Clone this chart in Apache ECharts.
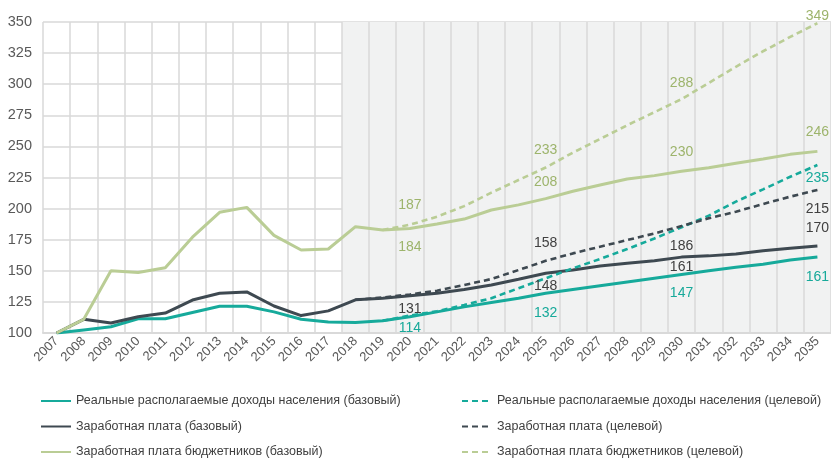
<!DOCTYPE html>
<html><head><meta charset="utf-8">
<script src="https://cdn.jsdelivr.net/npm/echarts@6/dist/echarts.min.js"></script>
<style>html,body{margin:0;padding:0;background:#fff}#c{width:831px;height:461px}</style>
</head><body><div id="c"></div>
<script>
var years = ['2007','2008','2009','2010','2011','2012','2013','2014','2015','2016','2017','2018','2019','2020','2021','2022','2023','2024','2025','2026','2027','2028','2029','2030','2031','2032','2033','2034','2035'];
var yTicks = {min: 100, max: 350, step: 25};
var forecastStart = '2018';

var incomeBase = [100,102.5,105,111.5,111.5,116.5,121.5,121.5,117,111,108.8,108.5,109.8,113,117,121,124.5,128,132,135,138,141,144,147,150,152.8,155.2,158.7,161];
var incomeTarget = [null,null,null,null,null,null,null,null,null,null,null,null,109.8,114,117.5,122.5,128,136,144,152,159.5,167.5,176,185,194.3,205.6,215.5,225.6,235];
var wageBase = [100,111,108,113,116,126.5,132,133,121.7,114,117.8,126.7,128,130,132,135,138.6,143.2,148,150.6,153.9,156,158,161,162,163.5,166.2,168.1,170];
var wageTarget = [null,null,null,null,null,null,null,null,null,null,null,126.7,128.5,131,134,138.6,143.4,150.6,158,164,169.4,174.7,180,186,192.2,197.5,203.7,209.6,215];
var publicBase = [100,111,150,148.6,152.5,177,197,201,178.5,166.7,167.5,185.5,182.8,184,187.6,191.6,198.9,203,208,214,219,223.8,226.5,230,232.9,236.4,239.9,243.6,246];
var publicTarget = [null,null,null,null,null,null,null,null,null,null,null,null,182.8,187,193.5,202,212.8,223,233,245,256,267,277.5,288,301,314,326.5,338,349];

var names = [
  'Реальные располагаемые доходы населения (базовый)',
  'Реальные располагаемые доходы населения (целевой)',
  'Заработная плата (базовый)',
  'Заработная плата (целевой)',
  'Заработная плата бюджетников (базовый)',
  'Заработная плата бюджетников (целевой)'
];
// labelled years and label offsets (px, + = down)
var labelYears = {
  0: [['2025',20],['2030',19],['2035',20]],
  1: [['2020',13],['2035',13]],
  2: [['2025',13],['2030',10],['2035',-18]],
  3: [['2020',15],['2025',-18],['2030',20],['2035',19]],
  4: [['2020',19],['2025',-17],['2030',-19],['2035',-19]],
  5: [['2020',-20],['2025',-17],['2030',-16],['2035',-7]]
};

var FONT = "'Liberation Sans',Arial,sans-serif";
var teal = '#16aa9b', dark = '#3e4951', green = '#bacd95';
var labelColors = ['#17a99a','#17a99a','#404040','#404040','#9db46c','#9db46c'];
var colors = [teal, teal, dark, dark, green, green];
var datas = [incomeBase, incomeTarget, wageBase, wageTarget, publicBase, publicTarget];

var series = datas.map(function(d, i){
  var dashed = i % 2 === 1;
  return {
    name: names[i], type: 'line', data: d, symbol: 'none', smooth: false,
    z: dashed ? 3 : 2,
    lineStyle: {color: colors[i], width: dashed ? 2.6 : 3, type: dashed ? [6,4] : 'solid'},
    itemStyle: {color: colors[i]},
    markPoint: {
      symbol: 'circle', symbolSize: 0.1, silent: true,
      itemStyle: {color: 'rgba(0,0,0,0)'},
      label: {show: true, position: 'inside', color: labelColors[i], fontSize: 14, fontFamily: FONT,
              formatter: function(p){ return Math.round(p.value); }},
      data: labelYears[i].map(function(l){
        var v = d[years.indexOf(l[0])];
        return {coord: [l[0], v], value: v, label: {offset: [0, l[1]]}};
      })
    }
  };
});

var bandColors = years.map(function(y){ return (+y >= +forecastStart) ? '#f1f2f2' : 'rgba(255,255,255,0)'; });

var legendText = {color: '#404040', fontSize: 12.5, fontFamily: FONT, lineHeight: 14};
var legendCommon = {orient: 'vertical', top: 394, padding: 0, height: 67, itemGap: 11.5,
  itemWidth: 30, itemHeight: 14, textStyle: legendText, selectedMode: false,
  itemStyle: {opacity: 0}};
var chart = echarts.init(document.getElementById('c'), null, {renderer: 'canvas'});
chart.setOption({
  animation: false,
  backgroundColor: '#ffffff',
  textStyle: {fontFamily: FONT},
  grid: {left: 43, right: 0, top: 22, bottom: 128, containLabel: false},
  xAxis: {
    type: 'category', data: years, boundaryGap: true,
    axisLine: {show: true, lineStyle: {color: '#d9d9d9', width: 2}},
    axisTick: {show: false},
    axisLabel: {interval: 0, rotate: 45, color: '#595959', fontSize: 13, fontFamily: FONT, margin: 6},
    splitLine: {show: true, interval: 0, lineStyle: {color: '#d9d9d9', width: 1.5}},
    splitArea: {show: true, interval: 0, areaStyle: {color: bandColors}}
  },
  yAxis: {
    type: 'value', min: yTicks.min, max: yTicks.max, interval: yTicks.step,
    axisLine: {show: false}, axisTick: {show: false},
    axisLabel: {color: '#595959', fontSize: 14.5, fontFamily: FONT, margin: 11},
    splitLine: {show: true, lineStyle: {color: '#d9d9d9', width: 1.5}}
  },
  legend: [
    Object.assign({data: [names[0], names[2], names[4]], left: 40}, legendCommon),
    Object.assign({data: [names[1], names[3], names[5]], left: 461}, legendCommon)
  ],
  series: series
});
</script></body></html>
